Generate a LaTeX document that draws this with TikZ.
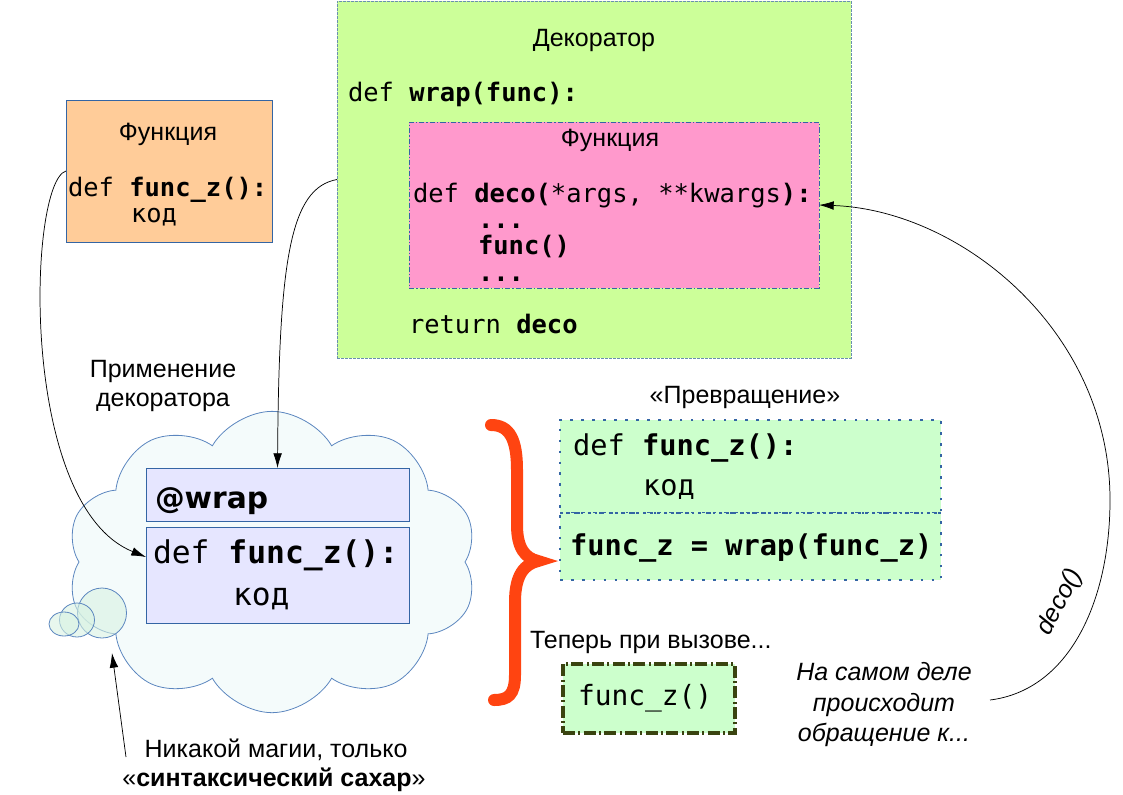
\documentclass[tikz,border=0pt]{standalone}
\usepackage{fontspec}
\setmainfont{Liberation Sans}
\newfontfamily\mono{DejaVu Sans Mono}
\newfontfamily\dvsans{DejaVu Sans}
\usetikzlibrary{shapes.symbols,arrows.meta,calc}
\definecolor{decof}{HTML}{CCFF99}
\definecolor{decob}{HTML}{6A8FB0}
\definecolor{pinkf}{HTML}{FF99CC}
\definecolor{pinkb}{HTML}{3465A4}
\definecolor{orangef}{HTML}{FFCC99}
\definecolor{boxb}{HTML}{3465A4}
\definecolor{lavf}{HTML}{E6E6FF}
\definecolor{cloudf}{HTML}{F4FBFB}
\definecolor{cloudb}{HTML}{5B86BF}
\definecolor{bubf}{HTML}{D8F2E2}
\definecolor{mintf}{HTML}{CCFFCC}
\definecolor{dotb}{HTML}{3465A4}
\definecolor{oliveb}{HTML}{3A4410}
\definecolor{bracec}{HTML}{FF4411}
\begin{document}
\begin{tikzpicture}[x=0.75pt,y=-0.75pt,
  txt/.style={inner sep=0pt, outer sep=0pt, anchor=base west},
  ctxt/.style={inner sep=0pt, outer sep=0pt, anchor=base},
  sans/.style={font=\fontsize{18.75}{22.5}\selectfont},
  msmall/.style={font=\mono\fontsize{19.1}{23}\selectfont},
  mbig/.style={font=\mono\fontsize{23.5}{28}\selectfont},
  mmid/.style={font=\mono\fontsize{21.5}{26}\selectfont},
  mcall/.style={font=\mono\fontsize{20.9}{25}\selectfont},
  boxnode/.style={rectangle, inner sep=0pt, outer sep=0pt},
  conn/.style={draw=black, line width=0.55pt, -{Latex[length=11pt,width=6.5pt]}},
]
\useasboundingbox (0,0) rectangle (1123,794);

% Decorator box
\node[boxnode, fill=decof, draw=decob, line width=0.6pt, dash pattern=on 2pt off 1pt,
  minimum width=385.5pt, minimum height=267.75pt] (deco) at (594,179.5) {};
\node[ctxt, sans] (dtitle) at (594,46) {Декоратор};
\node[txt, msmall] (d1) at (348,101) {def \textbf{wrap(func):}};

% Inner pink function box
\node[boxnode, fill=pinkf, draw=pinkb, line width=0.6pt, dash pattern=on 4pt off 1.5pt on 1pt off 1.5pt,
  minimum width=307.5pt, minimum height=124.5pt] (pink) at (614,205) {};
\node[ctxt, sans] (ptitle) at (610,146) {Функция};
\node[txt, msmall] (p1) at (413,202) {def \textbf{deco(}*args, **kwargs\textbf{):}};
\node[txt, msmall] (p2) at (478,228) {\textbf{...}};
\node[txt, msmall] (p3) at (478,254) {\textbf{func()}};
\node[txt, msmall] (p4) at (478,281) {\textbf{...}};
\node[txt, msmall] (d2) at (409,333) {return \textbf{deco}};

% Orange function box
\node[boxnode, fill=orangef, draw=boxb, line width=0.75pt,
  minimum width=154.5pt, minimum height=106.5pt] (orange) at (169,171) {};
\node[ctxt, sans] (otitle) at (168,140) {Функция};
\node[txt, msmall] (o1) at (68,196) {def \textbf{func\_z():}};
\node[txt, msmall] (o2) at (131,222) {код};

% Labels
\node[ctxt, sans] (apl1) at (163,377) {Применение};
\node[ctxt, sans] (apl2) at (163,406) {декоратора};

% Cloud
\node[cloud, cloud puffs=10, cloud puff arc=120, aspect=1.35, draw=cloudb, fill=cloudf, line width=0.6pt,
  inner sep=0pt, minimum width=308pt, minimum height=226pt] (cloud) at (272,562) {};
\draw[cloudb, fill=bubf, fill opacity=0.6, line width=0.6pt] (102,613) ellipse [x radius=24.5, y radius=25];
\draw[cloudb, fill=bubf, fill opacity=0.6, line width=0.6pt] (77,620) ellipse [x radius=17.5, y radius=17];
\draw[cloudb, fill=bubf, fill opacity=0.6, line width=0.6pt] (64,624) ellipse [x radius=15, y radius=12];

% Boxes in cloud
\node[boxnode, fill=lavf, draw=boxb, line width=0.75pt,
  minimum width=197.25pt, minimum height=39.75pt] (wrapbox) at (277.5,494.5) {};
\node[txt, font=\dvsans\bfseries\fontsize{22.3}{26}\selectfont] (w1) at (155,508) {@wrap};
\node[boxnode, fill=lavf, draw=boxb, line width=0.75pt,
  minimum width=197.25pt, minimum height=72pt] (defbox) at (277.5,575) {};
\node[txt, mbig] (c1) at (153,563) {def \textbf{func\_z():}};
\node[txt, mbig] (c2) at (233,605) {код};

% Sugar label
\node[ctxt, sans] (s1) at (276,757) {Никакой магии, только};
\node[ctxt, sans] (s2) at (274,786) {«\textbf{синтаксический сахар}»};

% Transformation
\node[ctxt, sans] (tr) at (745,403) {«Превращение»};
\node[boxnode, fill=mintf, draw=dotb, line width=2.1pt, dash pattern=on 2pt off 6.2pt,
  minimum width=285.75pt, minimum height=69.75pt] (tr1) at (750.5,466.5) {};
\node[boxnode, fill=mintf, draw=dotb, line width=2.1pt, dash pattern=on 2pt off 6.2pt,
  minimum width=285.75pt, minimum height=50.25pt] (tr2) at (750.5,546.5) {};
\draw[dotb, line width=1.8pt, dash pattern=on 2pt off 3.2pt] (tr1.south west) -- (tr1.south east);
\node[txt, mmid] (t1) at (573,455) {def \textbf{func\_z():}};
\node[txt, mmid] (t2) at (643,495) {код};
\node[txt, mmid] (t3) at (570,555) {\textbf{func\_z = wrap(func\_z)}};

% Brace
\draw[bracec, line width=9pt, line cap=round]
  (491,425) .. controls (510,425) and (517,440) .. (517,470) -- (517,525)
  .. controls (517,548) and (525,558) .. (538,561)
  .. controls (525,564) and (515,574) .. (515,602) -- (515,675)
  .. controls (515,695) and (508,700) .. (494,700);

% Call
\node[txt, sans] (now) at (530,648) {Теперь при вызове...};
\node[boxnode, fill=mintf, draw=oliveb, line width=2.6pt, dash pattern=on 9pt off 2.5pt on 1.5pt off 2.5pt,
  minimum width=129pt, minimum height=51.75pt] (callbox) at (649,698.5) {};
\node[txt, mcall] (cl) at (578,705) {func\_z()};

% Italic explanation
\node[ctxt, sans, font=\itshape\fontsize{18.75}{22.5}\selectfont] (r1) at (884,680) {На самом деле};
\node[ctxt, sans, font=\itshape\fontsize{18.75}{22.5}\selectfont] (r2) at (884,711) {происходит};
\node[ctxt, sans, font=\itshape\fontsize{18.75}{22.5}\selectfont] (r3) at (884,741) {обращение к...};
\node[sans, font=\itshape\fontsize{18.75}{22.5}\selectfont, rotate=62, inner sep=0pt] (dl) at (1060,602) {deco()};

% Connectors
\coordinate (arcstart) at (990,700);
\coordinate (arcmid) at (1110,500);
\draw[conn] (arcstart) .. controls (1070,690) and (1110,600) .. (arcmid)
  .. controls (1110,330) and (960,210) .. (pink.east);

\draw[conn] (orange.west) .. controls (28,182) and (18,505) .. ([yshift=-22.5pt]defbox.north west);
\draw[conn] (deco.west) .. controls (290,188) and (279,260) .. (wrapbox.north);

\coordinate (sugartail) at (126,757);
\coordinate (sugartip) at (112,653);
\draw[conn] (sugartail) -- (sugartip);
\end{tikzpicture}
\end{document}
